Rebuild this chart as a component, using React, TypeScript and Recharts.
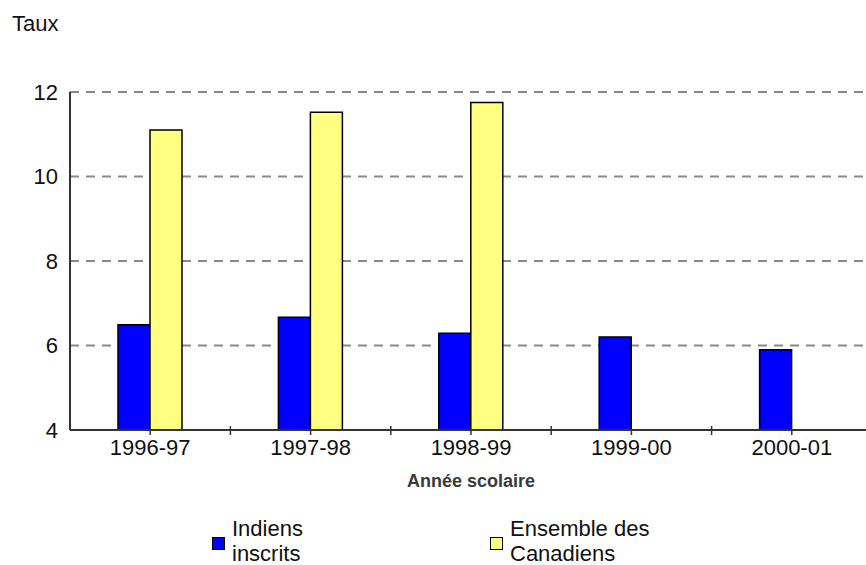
import { BarChart, Bar, XAxis, YAxis, CartesianGrid, Label } from 'recharts'

const categories = ['1996-97', '1997-98', '1998-99', '1999-00', '2000-01']
const indiensInscrits = [6.49, 6.67, 6.29, 6.2, 5.9]
const ensembleCanadiens: (number | null)[] = [11.1, 11.52, 11.75, null, null]
const yTicks = [4, 6, 8, 10, 12]

const seriesNames = ['Indiens inscrits', 'Ensemble des Canadiens']
const seriesColors = ['#0000ff', '#ffff80']

const data = categories.map((year, i) => ({
  year,
  indiens: indiensInscrits[i],
  canadiens: ensembleCanadiens[i],
}))

const CHART_W = 880
const CHART_H = 565
const Y_AXIS_W = 70
const MARGIN = { top: 92, right: 8, bottom: 73, left: 0 }
const BAND = (CHART_W - Y_AXIS_W - MARGIN.right - MARGIN.left) / categories.length
const FONT = '"Liberation Sans", Arial, sans-serif'

function YearTick(props: any) {
  const { x, y, payload } = props
  const axisY = y - 9
  return (
    <g>
      <line x1={x} y1={axisY} x2={x} y2={axisY + 5} stroke="#333" strokeWidth={1.5} />
      <line x1={x + BAND / 2} y1={axisY - 4} x2={x + BAND / 2} y2={axisY + 5} stroke="#333" strokeWidth={1.5} />
      <text x={x} y={y} dy="0.71em" textAnchor="middle" fontSize={22} fill="#111" fontFamily={FONT}>
        {payload.value}
      </text>
    </g>
  )
}

function LegendItem({ left, name, color, width }: { left: number; name: string; color: string; width: number }) {
  return (
    <div style={{ position: 'absolute', left, top: 516, width: width + 20 }}>
      <div
        style={{
          position: 'absolute',
          left: 0,
          top: 21,
          width: 13,
          height: 13,
          boxSizing: 'border-box',
          background: color,
          border: '1.5px solid #000',
        }}
      />
      <div style={{ marginLeft: 20, width, fontSize: 22, lineHeight: '25px', color: '#111' }}>{name}</div>
    </div>
  )
}

export default function App() {
  return (
    <div
      style={{
        position: 'absolute',
        left: 0,
        top: 0,
        width: 866,
        height: 565,
        overflow: 'hidden',
        background: '#fff',
        fontFamily: FONT,
      }}
    >
      <div style={{ position: 'absolute', left: 12, top: 11, fontSize: 22, color: '#111' }}>Taux</div>

      <BarChart width={CHART_W} height={CHART_H} data={data} margin={MARGIN} barGap={0}>
        <CartesianGrid vertical={false} stroke="#888" strokeWidth={2} strokeDasharray="9 7" />
        <XAxis
          dataKey="year"
          height={62}
          axisLine={{ stroke: '#333', strokeWidth: 2 }}
          tickLine={false}
          tickSize={0}
          tickMargin={9}
          tick={<YearTick />}
          interval={0}
        >
          <Label
            value="Année scolaire"
            position="insideBottom"
            offset={5}
            style={{ fontSize: 18, fontWeight: 'bold', fill: '#3a3a3a', fontFamily: FONT }}
          />
        </XAxis>
        <YAxis
          width={Y_AXIS_W}
          domain={[4, 12]}
          ticks={yTicks}
          allowDataOverflow
          axisLine={{ stroke: '#333', strokeWidth: 2 }}
          tickLine={false}
          tickMargin={6}
          tick={{ fontSize: 22, fill: '#111', fontFamily: FONT }}
        />
        <Bar
          dataKey="indiens"
          name={seriesNames[0]}
          fill={seriesColors[0]}
          stroke="#000"
          strokeWidth={1.5}
          barSize={32}
          isAnimationActive={false}
        />
        <Bar
          dataKey="canadiens"
          name={seriesNames[1]}
          fill={seriesColors[1]}
          stroke="#000"
          strokeWidth={1.5}
          barSize={32}
          isAnimationActive={false}
        />
      </BarChart>

      <LegendItem left={212} name={seriesNames[0]} color={seriesColors[0]} width={100} />
      <LegendItem left={490} name={seriesNames[1]} color={seriesColors[1]} width={150} />
    </div>
  )
}
